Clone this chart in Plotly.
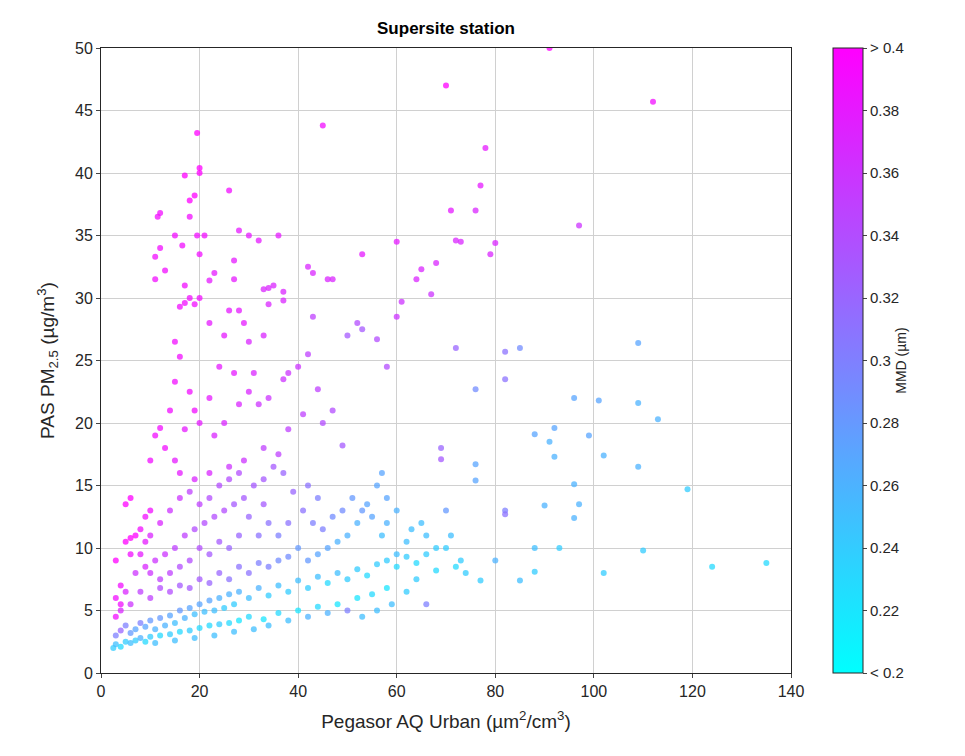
import plotly.graph_objects as go

outliers = [(91,50,0.4),(112,45.7,0.39),(70,47,0.4),(45,43.8,0.39),(78,42,0.38),(77,39,0.38),(76,37,0.37),(71,37,0.38),(72,34.6,0.37),(73,34.5,0.37),(80,34.4,0.37),(79,33.5,0.37),(97,35.8,0.36),(60,34.5,0.38),(53,33.5,0.38),(65,32.3,0.37),(64,31.5,0.37),(68,32.8,0.37),(67,30.3,0.36),(61,29.7,0.36),(60,28.5,0.36),(58,24.5,0.34),(56,26.7,0.34),(52,28,0.34),(53,27.5,0.33),(50,27,0.33),(72,26,0.32),(82,25.7,0.31),(85,26,0.29),(82,23.5,0.31),(76,22.7,0.29),(109,26.4,0.27),(96,22,0.27),(101,21.8,0.27),(109,21.6,0.26),(113,20.3,0.26),(92,19.6,0.27),(88,19.1,0.27),(91,18.5,0.26),(99,19,0.27),(92,17.3,0.26),(102,17.4,0.26),(96,15.1,0.26),(109,16.5,0.26),(119,14.7,0.24),(97,13.5,0.26),(90,13.4,0.26),(96,12.4,0.26),(82,13,0.3),(82,12.7,0.31),(76,16.7,0.27),(76,15.4,0.27),(69,18,0.32),(69,17.1,0.33),(70,13,0.28),(88,10,0.25),(93,10,0.24),(110,9.8,0.24),(102,8,0.24),(124,8.5,0.23),(135,8.8,0.23),(85,7.4,0.25),(88,8.1,0.24),(77,7.4,0.24),(80,9,0.26)]

plume = [(12,36.8,0.39),(11.5,36.5,0.39),(12,34,0.39),(11,33.3,0.39),(11,31.5,0.39),(13,32.2,0.39),(15,35,0.39),(16.5,34.2,0.39),(17,39.8,0.4),(18,37.8,0.4),(19,38.2,0.4),(18,36.5,0.39),(19.5,43.2,0.4),(20,40.4,0.4),(20,40,0.4),(21,35,0.39),(19.5,35,0.39),(20,33.5,0.39),(17,31,0.39),(16,29.3,0.39),(17,29.6,0.39),(15,26.5,0.39),(16,25.3,0.39),(18,30,0.39),(19,29.5,0.39),(20,30,0.39),(22,31.4,0.38),(23,32,0.38),(22,28,0.38),(25,27,0.38),(26,29,0.38),(27,31.5,0.38),(28,29,0.38),(29,28,0.38),(26,38.6,0.39),(27,33,0.38),(28,35.4,0.38),(30,35,0.38),(32,34.6,0.38),(33,30.7,0.37),(34,30.8,0.37),(35,31,0.37),(36,35,0.38),(37,30.5,0.37),(37,29.8,0.37),(34,29.5,0.37),(33,27,0.37),(30,26.5,0.37),(31,24,0.37),(27,24,0.38),(24,24.5,0.38),(22,22,0.38),(18,22.5,0.39),(19,21,0.39),(15,23.3,0.39),(14,21,0.39),(12,19.6,0.39),(11,19,0.39),(10,17,0.39),(13,18,0.39),(15,17,0.38),(17,19.5,0.38),(20,20,0.38),(23,19,0.37),(25,20,0.37),(28,21.5,0.37),(30,22.5,0.37),(32,21.5,0.36),(34,22,0.36),(37,23.5,0.36),(38,24,0.36),(40,24.5,0.36),(42,25.5,0.35),(43,28.5,0.35),(42,32.5,0.37),(43,32,0.37),(46,31.5,0.37),(47,31.5,0.37),(44,22.7,0.35),(47,21,0.34),(49,18.2,0.33),(45,20,0.34),(41,20.7,0.35),(38,19.5,0.35),(36,17.5,0.35),(33,18,0.35),(29,17,0.36),(26,16.5,0.36),(22,16,0.37),(19,15.5,0.37),(16,16,0.38),(10,13,0.39),(9,12.5,0.39),(8,11.5,0.39),(6,10.8,0.4),(5,10.5,0.4),(6,9.5,0.39),(7,11,0.4),(5,13.5,0.4),(6,14,0.4),(3,9,0.4),(3,6,0.39),(4,5.5,0.39),(3,4.5,0.39),(4,7,0.39)]

cloud = [(2.5,2,0.24),(3,2.3,0.25),(4,2.1,0.23),(5,2.5,0.24),(6,2.4,0.25),(7,2.6,0.24),(8,2.8,0.26),(9,2.5,0.23),(10,2.9,0.24),(12,3,0.23),(14,3.1,0.24),(16,3.3,0.23),(18,3.4,0.24),(20,3.6,0.23),(22,3.8,0.23),(24,3.9,0.24),(26,4,0.23),(28,4.2,0.22),(30,4.5,0.23),(33,4.3,0.22),(36,4.8,0.23),(40,5,0.22),(44,5.3,0.23),(48,5.5,0.22),(52,6,0.22),(55,6.3,0.23),(58,6.8,0.22),(3,3,0.3),(4,3.4,0.32),(5,3.8,0.3),(6,3.2,0.28),(7,3.5,0.27),(8,4,0.3),(9,3.7,0.27),(10,4.2,0.28),(11,3.5,0.26),(12,4.4,0.28),(13,3.8,0.26),(14,4.6,0.27),(15,4,0.25),(16,5,0.28),(17,4.4,0.26),(18,5.2,0.27),(19,4.7,0.25),(20,5.5,0.27),(21,4.9,0.25),(22,5.8,0.27),(23,5,0.25),(24,6,0.26),(25,5.2,0.24),(26,6.3,0.26),(27,5.5,0.24),(28,6.5,0.26),(30,6,0.25),(32,6.8,0.26),(34,6.2,0.24),(36,7,0.25),(38,6.5,0.24),(40,7.4,0.25),(42,6.8,0.24),(44,7.7,0.25),(46,7.2,0.23),(48,8,0.25),(50,7.5,0.24),(52,8.3,0.24),(54,7.8,0.23),(56,8.7,0.24),(58,9,0.24),(60,8.5,0.23),(62,9.3,0.24),(64,8.8,0.23),(66,9.5,0.24),(68,8.2,0.23),(70,10,0.24),(72,8.5,0.23),(63,11.5,0.25),(65,12,0.25),(60,13,0.26),(58,14,0.27),(56,15,0.27),(57,16,0.27),(54,13.5,0.27),(52,12,0.26),(50,11,0.26),(48,10.5,0.26),(46,10,0.27),(44,9.5,0.27),(42,9,0.28),(40,10,0.28),(38,9.3,0.29),(36,9,0.29),(34,8.5,0.3),(32,8.8,0.3),(30,8,0.31),(28,8.5,0.31),(26,7.5,0.31),(24,8,0.32),(22,7.2,0.32),(20,7.5,0.33),(18,6.8,0.33),(16,7,0.33),(14,6.5,0.34),(12,6.8,0.34),(10,6,0.35),(8,6.5,0.35),(6,5.5,0.36),(5,6.5,0.37),(4,5,0.37),(7,8,0.36),(9,8.5,0.37),(11,9,0.36),(13,9.5,0.36),(15,10,0.35),(17,11,0.35),(19,11.5,0.34),(21,12,0.34),(23,12.5,0.34),(25,13,0.34),(27,13.5,0.33),(29,14,0.33),(31,15,0.33),(33,15.5,0.33),(35,16.5,0.33),(37,16,0.32),(39,14.5,0.32),(41,13,0.31),(43,12,0.3),(45,11.5,0.3),(47,12.5,0.29),(49,13,0.29),(51,14,0.28),(53,13,0.28),(55,12.5,0.27),(44,14,0.3),(42,15,0.31),(38,12,0.31),(36,11,0.3),(34,12,0.31),(32,11,0.31),(30,12.5,0.32),(28,11,0.32),(26,10,0.32),(24,10.5,0.33),(22,9.5,0.33),(20,10,0.34),(18,9,0.34),(16,8.5,0.34),(14,8,0.35),(12,7.5,0.35),(10,8,0.36),(8,9.5,0.38),(9,10.5,0.38),(10,11,0.37),(12,12,0.37),(14,13,0.36),(16,14,0.36),(18,14.5,0.35),(20,13.5,0.35),(22,14,0.34),(24,15,0.34),(26,15.5,0.34),(28,16,0.34),(33,13.5,0.33),(62,10.5,0.25),(66,11,0.25),(68,10,0.24),(71,11,0.25),(73,9,0.24),(74,8,0.24),(64,7.5,0.24),(62,6.5,0.24),(59,5.5,0.25),(56,5,0.25),(53,4.5,0.25),(50,5,0.3),(46,4.8,0.26),(42,4.5,0.26),(38,4.2,0.25),(34,3.8,0.25),(31,3.5,0.25),(27,3.3,0.25),(23,3,0.25),(19,2.8,0.25),(15,2.6,0.25),(11,2.4,0.25),(66,5.5,0.3),(60,9.5,0.25),(57,11,0.25),(58,12,0.26)]

pts = cloud + plume + outliers
x = [p[0] for p in pts]
y = [p[1] for p in pts]
mmd = [p[2] for p in pts]

cbar_ticks = [0.2, 0.22, 0.24, 0.26, 0.28, 0.3, 0.32, 0.34, 0.36, 0.38, 0.4]
cbar_labels = ["< 0.2", "0.22", "0.24", "0.26", "0.28", "0.3", "0.32", "0.34", "0.36", "0.38", "> 0.4"]

fig = go.Figure(go.Scatter(
    x=x, y=y, mode="markers",
    marker=dict(size=6, color=mmd, cmin=0.2, cmax=0.4,
                colorscale=[[0, "rgb(0,255,255)"], [1, "rgb(255,0,255)"]],
                opacity=0.75, line=dict(width=0),
                colorbar=dict(tickvals=cbar_ticks, ticktext=cbar_labels,
                              thickness=30, thicknessmode="pixels",
                              len=1, lenmode="fraction", ypad=0, xpad=0,
                              y=0.5, yanchor="middle",
                              x=1.061, xanchor="left",
                              outlinecolor="#262626", outlinewidth=1,
                              ticks="outside", ticklen=4,
                              title=dict(text="MMD (µm)", side="right",
                                         font=dict(size=14, color="#262626")),
                              tickfont=dict(size=15, color="#262626")))))

ax = dict(showline=True, linecolor="#262626", mirror=True, gridcolor="#d0d0d0",
          zeroline=False, ticks="outside", ticklen=4, automargin=False,
          tickfont=dict(size=16, color="#262626"))
fig.update_layout(
    width=965, height=756, plot_bgcolor="white", paper_bgcolor="white",
    font=dict(family="Liberation Sans, Arial", color="#262626"),
    margin=dict(l=93, r=182, t=40, b=91, autoexpand=False),
    showlegend=False,
    title=dict(text="<b>Supersite station</b>", x=0.5, xanchor="center",
               xref="paper", y=0.982, font=dict(size=17, color="black")),
    xaxis=dict(ax, range=[0, 140], dtick=20,
               title=dict(text="Pegasor AQ Urban (µm<sup>2</sup>/cm<sup>3</sup>)", font=dict(size=19))),
    yaxis=dict(ax, range=[0, 50], dtick=5,
               title=dict(text="PAS PM<sub>2.5</sub> (µg/m<sup>3</sup>)", font=dict(size=19))),
)
fig.write_html("out.html")
